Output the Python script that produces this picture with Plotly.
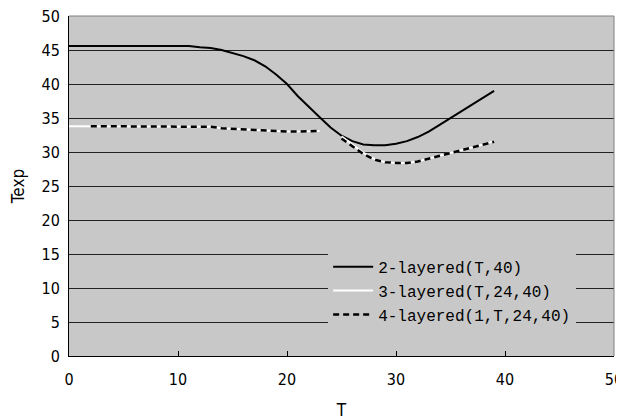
import plotly.graph_objects as go

T = [0, 1, 2, 3, 4, 5, 6, 7, 8, 9, 10, 11, 12, 13, 14, 15, 16, 17, 18, 19,
     20, 21, 22, 23, 24, 25, 26, 27, 28, 29, 30, 31, 32, 33, 34, 35, 36, 37, 38, 39]

two_layered = [45.6, 45.6, 45.6, 45.6, 45.6, 45.6, 45.6, 45.6, 45.6, 45.6,
               45.6, 45.6, 45.4, 45.3, 45.0, 44.6, 44.1, 43.5, 42.6, 41.4,
               40.0, 38.2, 36.6, 35.1, 33.6, 32.4, 31.6, 31.1, 31.0, 31.0,
               31.2, 31.6, 32.2, 33.0, 34.0, 35.0, 36.1, 37.1, 38.1, 39.0]

three_layered = [33.8, 33.8, 33.8, 33.8, 33.8, 33.8, 33.8, 33.8, 33.8, 33.8,
                 33.8, 33.8, 33.8, 33.7, 33.5, 33.4, 33.3, 33.2, 33.1, 33.0,
                 33.0, 33.0, 33.0, 33.1, None, 32.3, 31.1, 29.9, 29.0, 28.5,
                 28.4, 28.4, 28.6, 29.0, 29.4, 29.8, 30.2, 30.7, 31.1, 31.6]

four_layered = [None, None, 33.8, 33.8, 33.8, 33.8, 33.8, 33.8, 33.8, 33.8,
                33.8, 33.8, 33.8, 33.7, 33.5, 33.4, 33.3, 33.2, 33.1, 33.0,
                33.0, 33.0, 33.0, 33.1, None, 32.0, 30.8, 29.7, 28.9, 28.5,
                28.4, 28.4, 28.6, 29.0, 29.4, 29.8, 30.2, 30.7, 31.1, 31.5]

names = ["2-layered(T,40)", "3-layered(T,24,40)", "4-layered(1,T,24,40)"]

BG = "#c8c8c8"
TICKFONT = "DejaVu Sans Condensed, Liberation Mono, monospace"
LEGFONT = "Liberation Mono, DejaVu Sans Mono, monospace"

fig = go.Figure()
fig.add_trace(go.Scatter(x=T, y=two_layered, name=names[0], mode="lines",
                         line=dict(color="black", width=2), connectgaps=False))
fig.add_trace(go.Scatter(x=T, y=three_layered, name=names[1], mode="lines",
                         line=dict(color="white", width=2), connectgaps=False))
fig.add_trace(go.Scatter(x=T, y=four_layered, name=names[2], mode="lines",
                         line=dict(color="black", width=2.5, dash="6px,4px"),
                         connectgaps=False))

# the page body has an 8px margin, so the figure is 616x412
fig.update_layout(
    width=616, height=412,
    margin=dict(l=61, r=10, t=8, b=64, autoexpand=False),
    paper_bgcolor="white",
    plot_bgcolor=BG,
    showlegend=True,
    legend=dict(x=0.4755, y=0.312, xanchor="left", yanchor="top",
                bgcolor=BG, borderwidth=0,
                font=dict(family=LEGFONT, size=16, color="black"),
                itemwidth=40, tracegroupgap=0),
    font=dict(family=TICKFONT, size=16, color="black"),
)

fig.update_xaxes(range=[0, 50], dtick=10, tick0=0, automargin=False,
                 showgrid=False, zeroline=False,
                 showline=True, linecolor="black", linewidth=1,
                 ticks="inside", ticklen=5, tickcolor="black",
                 ticklabelstandoff=9, ticklabeloverflow="allow",
                 tickfont=dict(family=TICKFONT, size=16),
                 title=dict(text="T", standoff=24,
                            font=dict(family=TICKFONT, size=17)))
fig.update_yaxes(range=[0, 50], dtick=5, tick0=0, automargin=False,
                 showgrid=True, gridcolor="#222222", gridwidth=1,
                 zeroline=False,
                 showline=True, linecolor="black", linewidth=1,
                 ticks="", ticklabelstandoff=5, ticklabeloverflow="allow",
                 tickfont=dict(family=TICKFONT, size=16),
                 title=dict(text="Texp", standoff=20,
                            font=dict(family=TICKFONT, size=17)))

# grey plot-area frame on top/right
fig.add_shape(type="line", xref="paper", yref="paper", x0=0, x1=1, y0=1, y1=1,
              line=dict(color="#808080", width=1))
fig.add_shape(type="line", xref="paper", yref="paper", x0=1, x1=1, y0=0, y1=1,
              line=dict(color="#808080", width=1))

fig.write_html("out.html")
